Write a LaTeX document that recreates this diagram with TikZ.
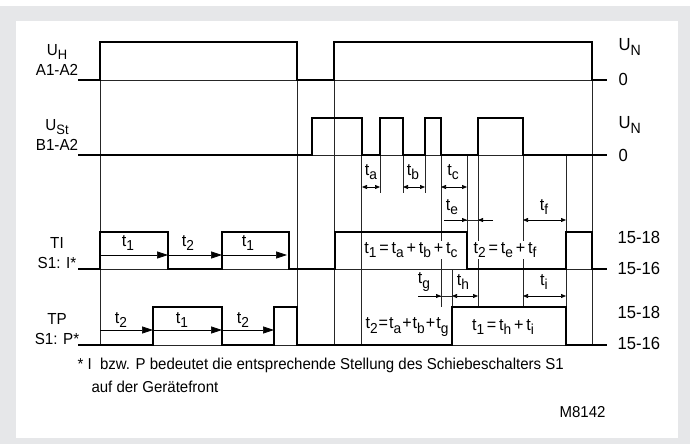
\documentclass[tikz,border=0pt]{standalone}
\usepackage{fontspec}
\setmainfont{Liberation Sans}[FakeStretch=0.95]
\usetikzlibrary{arrows.meta}
\definecolor{rahmen}{RGB}{230,231,233}
\newcommand{\ix}[2]{#1\raisebox{-0.5ex}{\scalebox{0.85}{#2}}}

\begin{document}
\begin{tikzpicture}[x=1pt,y=-1pt,
   sig/.style={line width=2.4pt,line join=miter},
   fein/.style={line width=0.7pt,black!85},
   pf/.style={-{Triangle[length=11pt,width=7pt]},line width=0.7pt},
   mass/.style={{Triangle[length=5pt,width=4pt]}-{Triangle[length=5pt,width=4pt]},line width=0.7pt},
   halb/.style={-{Triangle[length=5pt,width=4pt]},line width=0.7pt},
   lab/.style={font=\fontsize{16}{20}\selectfont,align=center},
   wert/.style={font=\fontsize{17.5}{18}\selectfont,anchor=west},
   zeit/.style={font=\fontsize{17}{18}\selectfont,inner sep=1pt},
   gl/.style={font=\fontsize{17}{18}\selectfont,fill=white,inner sep=1pt},
   fuss/.style={font=\fontsize{15.8}{17}\selectfont}]
   \useasboundingbox (0,0) rectangle (694,444);
   \fill[rahmen] (0,6) rectangle (690,444);
   \fill[white] (16,21) rectangle (678,438);
   % Nulllinien
   \draw[fein] (78,80) -- (607,80);
   \draw[fein] (78,155) -- (607,155);
   \draw[fein] (78,269) -- (607,269);
   \draw[fein] (78,345) -- (607,345);
   % Hilfslinien
   \foreach \x in {100,297,334,592}
      \draw[fein] (\x,42) -- (\x,345);
   \foreach \x in {361,566}
      \draw[fein] (\x,155) -- (\x,345);
   \foreach \x in {380,403,425}
      \draw[fein] (\x,155) -- (\x,193);
   \foreach \x in {441,478,523}
      \draw[fein] (\x,155) -- (\x,307);
   \draw[fein] (467,155) -- (467,269);
   \draw[fein] (452,269) -- (452,307);
   % Signale
   \draw[sig] (78,80) -- (100,80) -- (100,42) -- (297,42) -- (297,80) -- (334,80)
      -- (334,42) -- (592,42) -- (592,80) -- (607,80);
   \draw[sig] (78,155) -- (312,155) -- (312,118) -- (362,118) -- (362,155) -- (380,155)
      -- (380,118) -- (403,118) -- (403,155) -- (425,155) -- (425,118) -- (441,118)
      -- (441,155) -- (478,155) -- (478,118) -- (523,118) -- (523,155) -- (607,155);
   \draw[sig] (78,269) -- (100,269) -- (100,232) -- (168,232) -- (168,269) -- (222,269)
      -- (222,232) -- (289,232) -- (289,269) -- (335,269) -- (335,232) -- (467,232)
      -- (467,269) -- (566,269) -- (566,232) -- (592,232) -- (592,269) -- (607,269);
   \draw[sig] (78,345) -- (153,345) -- (153,307) -- (222,307) -- (222,345) -- (274,345)
      -- (274,307) -- (297,307) -- (297,345) -- (452,345) -- (452,307) -- (566,307)
      -- (566,345) -- (607,345);
   % Zeiten TI und TP
   \draw[pf] (100,255) -- (168,255);
   \draw[pf] (168,255) -- (222,255);
   \draw[pf] (222,255) -- (287,255);
   \draw[pf] (100,330) -- (153,330);
   \draw[pf] (153,330) -- (222,330);
   \draw[pf] (222,330) -- (274,330);
   \node[zeit] (ti1) at (128,243) {\ix{t}{1}};
   \node[zeit] (ti2) at (188,243) {\ix{t}{2}};
   \node[zeit] (ti3) at (248,243) {\ix{t}{1}};
   \node[zeit] (tp1) at (121,320) {\ix{t}{2}};
   \node[zeit] (tp2) at (182,320) {\ix{t}{1}};
   \node[zeit] (tp3) at (243,320) {\ix{t}{2}};
   % Massangaben
   \draw[mass] (362,187) -- (380,187);
   \draw[mass] (403,187) -- (425,187);
   \draw[mass] (441,187) -- (467,187);
   \draw[fein] (444,220) -- (493,220);
   \draw[halb] (444,220) -- (467,220);
   \draw[halb] (493,220) -- (478,220);
   \draw[mass] (523,220) -- (566,220);
   \draw[fein] (418,296) -- (452,296);
   \draw[halb] (418,296) -- (441,296);
   \draw[mass] (452,296) -- (478,296);
   \draw[mass] (523,296) -- (566,296);
   \node[zeit] (ta) at (371,172) {\ix{t}{a}};
   \node[zeit] (tb) at (413,172) {\ix{t}{b}};
   \node[zeit] (tc) at (453,172) {\ix{t}{c}};
   \node[zeit] (te) at (452,207) {\ix{t}{e}};
   \node[zeit] (tf) at (544,207) {\ix{t}{f}};
   \node[zeit] (tg) at (424,282) {\ix{t}{g}};
   \node[zeit] (th) at (463,282) {\ix{t}{h}};
   \node[zeit] (tj) at (544,282) {\ix{t}{i}};
   \node[gl] (g1) at (411,250) {\ix{t}{1}\,=\,\ix{t}{a}\,+\,\ix{t}{b}\,+\,\ix{t}{c}};
   \node[gl] (g2) at (505,250) {\ix{t}{2}\,=\,\ix{t}{e}\,+\,\ix{t}{f}};
   \node[gl] (g3) at (407,327) {\ix{t}{2}\kern1pt=\kern1pt\ix{t}{a}\kern1pt+\kern1pt\ix{t}{b}\kern1pt+\kern1pt\ix{t}{g}};
   \node[gl] (g4) at (503,327) {\ix{t}{1}\,=\,\ix{t}{h}\,+\,\ix{t}{i}};
   % Beschriftung links
   \node[lab] (uh) at (57,60) {\ix{U}{H}\\A1-A2};
   \node[lab] (ust) at (57,135) {\ix{U}{St}\\B1-A2};
   \node[lab] (ti) at (57,253) {TI\\S1: I*};
   \node[lab] (tp) at (57,329) {TP\\S1: P*};
   % Beschriftung rechts
   \node[wert] (un1) at (615,47) {\ix{U}{N}};
   \node[wert] (n1) at (615,79) {0};
   \node[wert] (un2) at (615,125) {\ix{U}{N}};
   \node[wert] (n2) at (615,155) {0};
   \node[wert] (a1) at (614,237) {15-18};
   \node[wert] (b1) at (614,268) {15-16};
   \node[wert] (a2) at (614,312) {15-18};
   \node[wert] (b2) at (614,343) {15-16};
   % Fussnote
   \node[fuss,anchor=west] (fn1) at (74,365)
      {* I\ \ bzw. P bedeutet die entsprechende Stellung des Schiebeschalters S1};
   \node[fuss,anchor=west] (fn2) at (88,387) {auf der Gerätefront};
   \node[fuss,anchor=east] (nr) at (609,412) {M8142};
\end{tikzpicture}
\end{document}
